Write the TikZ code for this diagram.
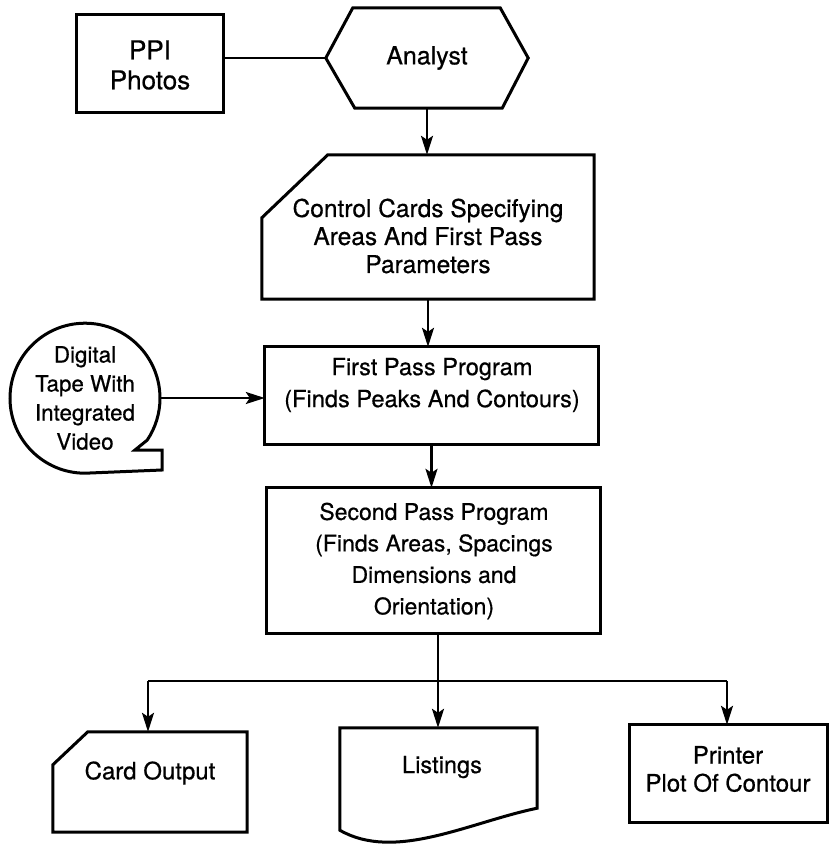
\documentclass[tikz,border=0pt]{standalone}
\usepackage{fontspec}
\setmainfont{TeX Gyre Heros}[FakeBold=0.6]
\usetikzlibrary{arrows.meta}
\newcommand\myfs[2]{\fontsize{#1pt}{#2pt}\selectfont}
\begin{document}
\begin{tikzpicture}[x=1pt,y=-1pt,
  outline/.style={line width=3pt, line join=miter},
  conn/.style={line width=2.4pt},
  arr/.style={conn, -{Stealth[length=19pt,width=12pt,inset=4pt]}},
  holder/.style={draw=none, rectangle, inner sep=0pt},
  txt/.style={align=center, inner sep=0pt},
]
\useasboundingbox (0,0) rectangle (831,844);

% PPI Photos
\node[holder, minimum width=146pt, minimum height=97pt] (ppi) at (150,63.5) {};
\draw[outline] (ppi.north west) rectangle (ppi.south east);
\node[txt, font=\myfs{26}{30}] (ppitxt) at (150,65) {PPI\\Photos};

% Analyst
\node[holder, minimum width=202pt, minimum height=100pt] (analyst) at (427,58) {};
\draw[outline] (analyst.west) -- ([xshift=27pt]analyst.north west) -- ([xshift=-28pt]analyst.north east)
  -- (analyst.east) -- ([xshift=-26pt]analyst.south east) -- ([xshift=29pt]analyst.south west) -- cycle;
\node[txt, font=\myfs{25}{30}] (analysttxt) at (427,58) {Analyst};

% Control cards
\node[holder, minimum width=332pt, minimum height=144pt] (cards) at (428,227) {};
\draw[outline] ([yshift=-63pt]cards.north west) -- ([xshift=66pt]cards.north west) -- (cards.north east)
  -- (cards.south east) -- (cards.south west) -- cycle;
\node[txt, font=\myfs{24.5}{28}] (cardstxt) at (428,236) {Control Cards Specifying\\Areas And First Pass\\Parameters};

% First pass
\node[holder, minimum width=333pt, minimum height=97pt] (first) at (431.5,395.5) {};
\draw[outline] (first.north west) rectangle (first.south east);
\node[txt, font=\myfs{23.6}{32}] (firsttxt) at (432,385) {First Pass Program\\(Finds Peaks And Contours)};

% Digital tape
\node[holder, circle, minimum size=150pt] (tape) at (85,398) {};
\draw[outline] (tape.south) arc[start angle=90, end angle=394, radius=75] -- (135,450) -- (162,450) -- (162,470) -- cycle;
\node[txt, font=\myfs{22.4}{29}] (tapetxt) at (85,398) {Digital\\Tape With\\Integrated\\Video};

% Second pass
\node[holder, minimum width=333pt, minimum height=145pt] (second) at (433.5,560.5) {};
\draw[outline] (second.north west) rectangle (second.south east);
\node[txt, font=\myfs{23}{31.5}] (secondtxt) at (434,561) {Second Pass Program\\(Finds Areas, Spacings\\Dimensions and\\Orientation)};

% Card output
\node[holder, minimum width=194pt, minimum height=100pt] (card) at (150,782) {};
\draw[outline] ([yshift=-33pt]card.north west) -- ([xshift=35pt]card.north west) -- (card.north east)
  -- (card.south east) -- (card.south west) -- cycle;
\node[txt, font=\myfs{24}{28}] (cardtxt) at (150,773) {Card Output};

% Listings
\node[holder, minimum width=197pt, minimum height=102pt] (list) at (438.5,779) {};
\draw[outline] (list.north west) -- (list.north east) -- ([yshift=22pt]list.south east)
  .. controls (470,822) and (395,862) .. (list.south west) -- cycle;
\node[txt, font=\myfs{23.6}{28}] (listtxt) at (442,767) {Listings};

% Printer
\node[holder, minimum width=197pt, minimum height=97pt] (printer) at (728.5,773.5) {};
\draw[outline] (printer.north west) rectangle (printer.south east);
\node[txt, font=\myfs{24}{28}] (printertxt) at (728,769) {Printer\\Plot Of Contour};

% Connectors
\draw[conn] (ppi.east |- analyst.west) -- (analyst.west);
\draw[arr] (analyst.south) -- (analyst.south |- cards.north);
\draw[arr] (cards.south) -- (cards.south |- first.north);
\draw[arr] (tape.east) -- (tape.east -| first.west);
\draw[arr] (first.south) -- (first.south |- second.north);

\coordinate (split) at (438,681);
\coordinate (bl) at (148,681);
\coordinate (br) at (727,681);
\draw[conn] (split |- second.south) -- (split);
\draw[conn] (bl) -- (br);
\draw[arr] (bl) -- (bl |- card.north);
\draw[arr] (split) -- (split |- list.north);
\draw[arr] (br) -- (br |- printer.north);
\end{tikzpicture}
\end{document}
